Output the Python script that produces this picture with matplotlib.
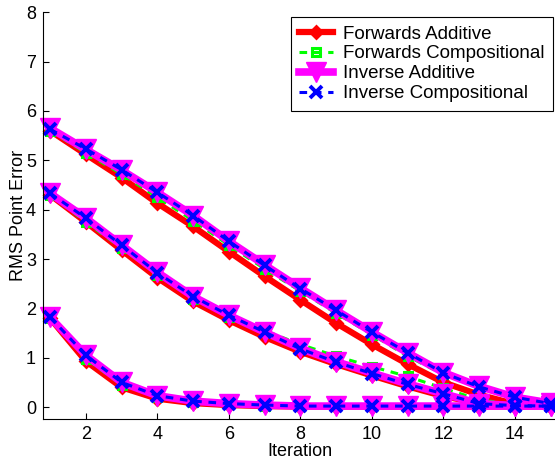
import numpy as np
import matplotlib
matplotlib.use("Agg")
import matplotlib.pyplot as plt

plt.rcParams["font.family"] = ["Liberation Sans", "DejaVu Sans"]

iterations = np.arange(1, 16)

# three runs per algorithm (large, medium, small starting error)
fa_runs = [
    [5.60, 5.12, 4.65, 4.13, 3.66, 3.15, 2.65, 2.17, 1.70, 1.27, 0.87, 0.50, 0.25, 0.06, 0.02],
    [4.30, 3.75, 3.18, 2.62, 2.14, 1.76, 1.42, 1.12, 0.87, 0.64, 0.42, 0.22, 0.08, 0.02, 0.01],
    [1.80, 0.93, 0.40, 0.17, 0.08, 0.04, 0.02, 0.01, 0.01, 0.01, 0.01, 0.01, 0.01, 0.01, 0.01],
]
fc_runs = [
    [5.60, 5.15, 4.72, 4.25, 3.78, 3.28, 2.80, 2.35, 1.90, 1.47, 1.03, 0.66, 0.40, 0.18, 0.06],
    [4.30, 3.75, 3.22, 2.68, 2.20, 1.83, 1.55, 1.27, 1.03, 0.82, 0.62, 0.38, 0.15, 0.05, 0.02],
    [1.80, 0.98, 0.45, 0.20, 0.10, 0.06, 0.03, 0.02, 0.02, 0.02, 0.02, 0.02, 0.02, 0.02, 0.02],
]
ia_runs = [
    [5.65, 5.22, 4.80, 4.35, 3.88, 3.36, 2.88, 2.41, 1.96, 1.52, 1.10, 0.70, 0.42, 0.20, 0.08],
    [4.33, 3.83, 3.28, 2.73, 2.24, 1.86, 1.52, 1.19, 0.92, 0.69, 0.47, 0.27, 0.07, 0.03, 0.02],
    [1.82, 1.05, 0.50, 0.23, 0.12, 0.07, 0.04, 0.02, 0.02, 0.02, 0.02, 0.02, 0.02, 0.02, 0.02],
]
ic_runs = [
    [5.63, 5.23, 4.81, 4.35, 3.88, 3.36, 2.87, 2.40, 1.96, 1.52, 1.10, 0.69, 0.41, 0.20, 0.07],
    [4.33, 3.83, 3.28, 2.72, 2.24, 1.86, 1.52, 1.18, 0.91, 0.68, 0.46, 0.27, 0.07, 0.03, 0.02],
    [1.82, 1.05, 0.50, 0.23, 0.12, 0.07, 0.04, 0.02, 0.02, 0.02, 0.02, 0.02, 0.02, 0.02, 0.02],
]

labels = ["Forwards Additive", "Forwards Compositional",
          "Inverse Additive", "Inverse Compositional"]

styles = [
    dict(color=(1, 0, 0), lw=4.5, ls="-", marker="D", ms=6, mew=2.0, mfc=(1, 0, 0)),
    dict(color=(0, 1, 0), lw=2.2, dashes=(2.5, 2.2), marker="s", ms=6, mew=2.2, mfc="none"),
    dict(color=(1, 0, 1), lw=5.5, ls="-", marker="v", ms=14, mew=1.0, mfc=(1, 0, 1)),
    dict(color=(0, 0, 1), lw=2.2, dashes=(2.5, 2.2), marker="x", ms=9, mew=2.8),
]

fig = plt.figure(figsize=(5.55, 4.66), dpi=100)
ax = fig.add_axes([0.0775, 0.1, 1.005 - 0.0775, 0.9736 - 0.1])

handles = []
for runs, label, st in zip([fa_runs, fc_runs, ia_runs, ic_runs], labels, styles):
    for i, run in enumerate(runs):
        line, = ax.plot(iterations, run, clip_on=False, **st)
    handles.append(line)

ax.set_xlim(0.8, 15.2)
ax.set_ylim(-0.25, 8)
ax.set_xticks(range(2, 15, 2))
ax.set_yticks(range(0, 9))
ax.tick_params(direction="in", length=4, labelsize=13, width=0.8, pad=5)
ax.spines["top"].set_visible(False)
ax.spines["right"].set_visible(False)
ax.set_xlabel("Iteration", fontsize=13, labelpad=0)
ax.set_ylabel("RMS Point Error", fontsize=13, labelpad=-0.5)

leg = ax.legend(handles=handles, labels=labels, loc="upper right",
                bbox_to_anchor=(553 / 555, 1 - 17 / 466),
                bbox_transform=fig.transFigure,
                fontsize=13.5, fancybox=False, framealpha=1, edgecolor="black",
                handlelength=1.8, handletextpad=0.55, labelspacing=0.15,
                borderpad=0.45, borderaxespad=0)
leg.get_frame().set_linewidth(0.8)

fig.savefig("out.png", dpi=100)
